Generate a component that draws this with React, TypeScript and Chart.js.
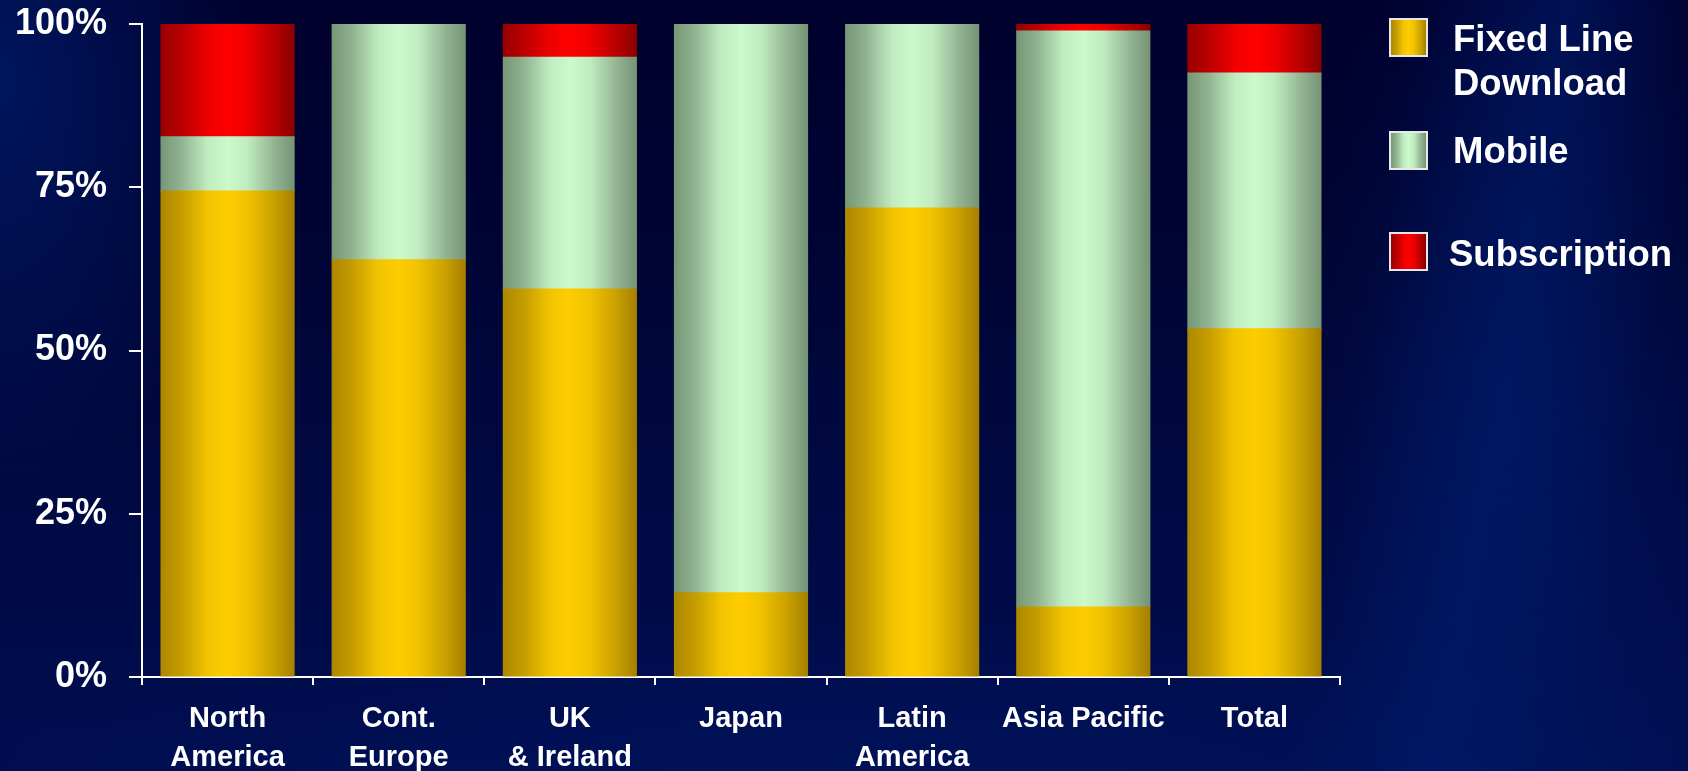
import React, { useEffect, useRef } from "react";
import { Chart, registerables } from "chart.js";

Chart.register(...registerables);

const categories: (string | string[])[] = [
  ["North", "America"],
  ["Cont.", "Europe"],
  ["UK", "& Ireland"],
  "Japan",
  ["Latin", "America"],
  "Asia Pacific",
  "Total",
];

const fixedLineDownload = [74.4, 63.9, 59.4, 12.9, 71.8, 10.7, 53.3];
const mobile = [8.3, 36.1, 35.5, 87.1, 28.2, 88.2, 39.2];
const subscription = [17.3, 0, 5.1, 0, 0, 1.1, 7.5];

const seriesNames = ["Fixed Line\nDownload", "Mobile", "Subscription"];
const yTicks = [0, 25, 50, 75, 100];

const BAR_PCT = 0.777;
const FONT = "'Liberation Sans', Arial, Helvetica, sans-serif";

const goldStops: [number, string][] = [
  [0, "#ad8800"],
  [0.15, "#c49c00"],
  [0.35, "#f2c400"],
  [0.5, "#ffcc00"],
  [0.65, "#f0c200"],
  [0.85, "#c9a000"],
  [1, "#a68000"],
];
const mobileStops: [number, string][] = [
  [0, "#779777"],
  [0.15, "#90b290"],
  [0.35, "#c0ecc0"],
  [0.5, "#cbfacb"],
  [0.65, "#c0ecc0"],
  [0.85, "#93b493"],
  [1, "#769476"],
];
const redStops: [number, string][] = [
  [0, "#990000"],
  [0.15, "#b80000"],
  [0.35, "#ee0000"],
  [0.5, "#ff0000"],
  [0.65, "#ee0000"],
  [0.85, "#b80000"],
  [1, "#8a0000"],
];

function cssGrad(stops: [number, string][]) {
  return `linear-gradient(to right, ${stops.map(([o, c]) => `${c} ${o * 100}%`).join(", ")})`;
}

function barGradient(stops: [number, string][], fallback: string) {
  return (ctx: any) => {
    const chart = ctx.chart;
    const xs = chart.scales && chart.scales.x;
    if (!chart.chartArea || !xs || ctx.dataIndex === undefined) return fallback;
    const cx = xs.getPixelForValue(ctx.dataIndex);
    const w = (xs.width / categories.length) * BAR_PCT;
    const g = chart.ctx.createLinearGradient(cx - w / 2, 0, cx + w / 2, 0);
    stops.forEach(([o, c]) => g.addColorStop(o, c));
    return g;
  };
}

const legendStops = [goldStops, mobileStops, redStops];
const legendTops = [17, 129, 231.5];
const legendBoxTops = [18, 130.5, 232];

export default function App() {
  const canvasRef = useRef<HTMLCanvasElement>(null);

  useEffect(() => {
    if (!canvasRef.current) return;
    const chart = new Chart(canvasRef.current, {
      type: "bar",
      data: {
        labels: categories,
        datasets: [
          {
            label: seriesNames[0],
            data: fixedLineDownload,
            backgroundColor: barGradient(goldStops, "#ffcc00"),
            borderWidth: 0,
          },
          {
            label: seriesNames[1],
            data: mobile,
            backgroundColor: barGradient(mobileStops, "#c8f8c8"),
            borderWidth: 0,
          },
          {
            label: seriesNames[2],
            data: subscription,
            backgroundColor: barGradient(redStops, "#ff0000"),
            borderWidth: 0,
          },
        ],
      },
      options: {
        responsive: false,
        animation: false,
        datasets: {
          bar: {
            barPercentage: BAR_PCT,
            categoryPercentage: 1,
            inflateAmount: 0.6,
          },
        },
        layout: { padding: { top: 24, right: 348, left: 0, bottom: 0 } },
        plugins: {
          legend: { display: false },
          tooltip: { enabled: false },
        },
        scales: {
          x: {
            stacked: true,
            grid: {
              display: true,
              drawOnChartArea: false,
              drawTicks: true,
              tickLength: 8,
              color: "#ffffff",
              lineWidth: 2,
              offset: true,
            },
            border: { display: true, color: "#ffffff", width: 2 },
            ticks: {
              color: "#ffffff",
              font: { family: FONT, size: 29, weight: "bold", lineHeight: 1.33 },
              padding: 15,
              maxRotation: 0,
              autoSkip: false,
            },
            afterFit: (scale: any) => {
              scale.height = 94;
              scale.paddingLeft = 0;
              scale.paddingRight = 0;
            },
          },
          y: {
            stacked: true,
            min: 0,
            max: 100,
            afterBuildTicks: (scale: any) => {
              scale.ticks = yTicks.map((v) => ({ value: v }));
            },
            grid: {
              display: true,
              drawOnChartArea: false,
              drawTicks: true,
              tickLength: 13,
              color: "#ffffff",
              lineWidth: 2,
            },
            border: { display: true, color: "#ffffff", width: 2 },
            ticks: {
              color: "#ffffff",
              font: { family: FONT, size: 36, weight: "bold" },
              padding: 22,
              callback: (v: any) => `${v}%`,
            },
            afterFit: (scale: any) => {
              scale.width = 142;
              scale.paddingTop = 0;
              scale.paddingBottom = 0;
            },
          },
        },
      },
    });
    return () => chart.destroy();
  }, []);

  return (
    <div
      style={{
        position: "relative",
        width: 1688,
        height: 771,
        overflow: "hidden",
        background: [
          "radial-gradient(ellipse 260px 420px at 0% 10%, rgba(0,28,110,0.75), rgba(0,28,110,0) 100%)",
          "linear-gradient(100deg, rgba(0,30,115,0) 78%, rgba(0,30,115,0.45) 86%, rgba(0,30,115,0) 94%)",
          "radial-gradient(ellipse 220px 700px at 1530px 420px, rgba(0,30,115,0.45), rgba(0,30,115,0) 100%)",
          "radial-gradient(ellipse 900px 160px at 900px 771px, rgba(0,20,95,0.6), rgba(0,20,95,0) 100%)",
          "linear-gradient(to bottom, #00002c 0%, #000535 35%, #000a45 70%, #000e50 100%)",
        ].join(", "),
      }}
    >
      <style>{`body{margin:0;}`}</style>
      <canvas ref={canvasRef} width={1688} height={771} style={{ position: "absolute", left: 0, top: 0 }} />
      {seriesNames.map((name, i) => (
        <React.Fragment key={name}>
          <div
            style={{
              position: "absolute",
              left: 1389,
              top: legendBoxTops[i],
              width: 35,
              height: 35,
              border: "2px solid #e8e8e8",
              background: cssGrad(legendStops[i]),
            }}
          />
          <div
            style={{
              position: "absolute",
              left: i === 2 ? 1449 : 1453,
              top: legendTops[i],
              color: "#ffffff",
              fontFamily: FONT,
              fontWeight: "bold",
              fontSize: 36.5,
              lineHeight: "44px",
              whiteSpace: "pre",
            }}
          >
            {name}
          </div>
        </React.Fragment>
      ))}
    </div>
  );
}
